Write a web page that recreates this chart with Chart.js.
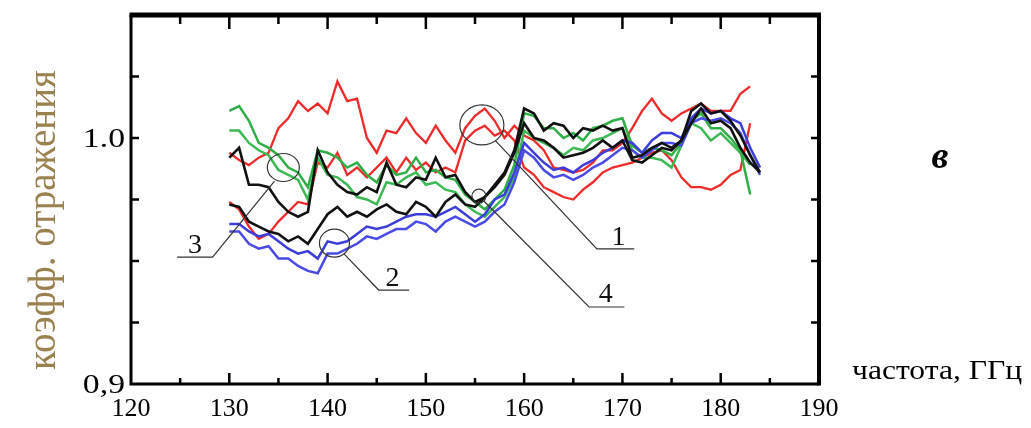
<!DOCTYPE html>
<html>
<head>
<meta charset="utf-8">
<script src="https://cdn.jsdelivr.net/npm/chart.js@4.4.0/dist/chart.umd.min.js"></script>
<style>
  html, body { margin: 0; padding: 0; background: #fff; }
</style>
</head>
<body>
<canvas id="chart" width="1031" height="428"></canvas>
<script>
// frequency, GHz
const freq = [130,131,132,133,134,135,136,137,138,139,140,141,142,143,144,145,146,147,148,149,
  150,151,152,153,154,155,156,157,158,159,160,161,162,163,164,165,166,167,168,169,
  170,171,172,173,174,175,176,177,178,179,180,181,182,183,184];

const red1 = [0.994,0.991,0.989,0.992,0.994,1.004,1.008,1.015,1.011,1.014,
  1.010,1.023,1.015,1.016,1.000,0.994,1.003,1.002,1.008,1.002,
  0.998,1.005,0.999,0.994,1.004,1.009,1.012,1.007,1.000,1.005,
  1.001,0.999,0.995,0.988,0.987,0.986,0.987,0.990,0.995,0.995,
  0.998,1.004,1.011,1.016,1.010,1.007,1.010,1.012,1.014,1.011,
  1.011,1.011,1.018,1.021,null];
const red2 = [0.974,0.971,0.964,0.959,0.961,0.966,0.970,0.974,0.973,0.990,
  0.988,0.994,0.985,0.988,0.984,0.988,0.992,0.986,0.992,0.987,
  0.990,0.986,0.988,0.986,0.999,1.003,1.005,1.001,1.003,0.999,
  0.988,0.985,0.980,0.978,0.976,0.975,0.979,0.982,0.986,0.988,
  0.989,0.990,0.992,0.994,0.995,0.991,0.984,0.980,0.980,0.979,
  0.981,0.985,0.987,1.006,null];
const green1 = [1.011,1.013,1.007,0.998,0.996,0.993,0.988,0.986,0.980,0.995,
  0.994,0.992,0.988,0.990,0.985,0.982,0.989,0.985,0.986,0.992,
  0.986,0.987,0.984,0.983,0.977,0.974,0.971,0.975,0.979,0.989,
  1.010,1.009,1.004,1.004,1.000,1.002,0.999,1.004,1.005,1.007,
  1.008,0.997,0.994,0.996,0.995,0.993,0.998,1.007,1.010,1.004,
  1.004,1.000,0.995,0.977,null];
const green2 = [1.003,1.003,0.998,0.995,0.993,0.987,0.985,0.983,0.975,0.992,
  0.985,0.984,0.981,0.976,0.975,0.973,0.982,0.981,0.984,0.986,
  0.981,0.982,0.979,0.978,0.973,0.970,0.968,0.972,0.976,0.984,
  1.003,1.000,0.998,0.996,0.993,0.996,0.995,0.999,1.000,1.002,
  1.004,0.995,0.992,0.992,0.991,0.988,0.997,1.006,1.004,0.999,
  1.002,0.998,0.994,0.989,null];
const black1 = [0.992,0.996,0.981,0.981,0.980,0.974,0.970,0.968,0.970,0.995,
  0.986,0.981,0.978,0.977,0.980,0.978,0.990,0.981,0.980,0.984,
  0.983,0.992,0.984,0.985,0.978,0.974,0.976,0.981,0.986,0.995,
  1.012,1.010,1.003,1.006,1.005,1.000,1.004,1.003,1.005,1.003,
  1.004,0.992,0.993,0.996,0.998,0.996,0.999,1.011,1.014,1.010,
  1.011,1.007,1.001,0.993,0.986];
const black2 = [0.973,0.972,0.966,0.964,0.962,0.961,0.958,0.960,0.957,0.963,
  0.969,0.972,0.968,0.970,0.968,0.971,0.973,0.970,0.969,0.974,
  0.972,0.968,0.974,0.977,0.973,0.972,0.976,0.980,0.985,0.994,
  1.006,1.000,0.999,0.996,0.992,0.993,0.994,0.996,0.999,0.996,
  0.999,0.991,0.990,0.993,0.996,0.995,0.999,1.006,1.012,1.006,
  1.007,1.004,0.996,0.990,0.986];
const blue1 = [0.965,0.965,0.962,0.960,0.961,0.958,0.955,0.953,0.954,0.951,
  0.958,0.957,0.958,0.961,0.964,0.963,0.964,0.966,0.968,0.969,
  0.969,0.968,0.970,0.972,0.969,0.966,0.969,0.975,0.977,0.986,
  0.998,0.994,0.990,0.987,0.988,0.986,0.989,0.991,0.994,0.996,
  0.999,0.998,0.994,0.999,1.002,1.002,1.000,1.008,1.012,1.010,
  1.011,1.008,1.006,0.996,0.988];
const blue2 = [0.962,0.962,0.957,0.955,0.956,0.951,0.951,0.948,0.946,0.945,
  0.953,0.953,0.955,0.957,0.960,0.959,0.961,0.963,0.963,0.966,
  0.965,0.962,0.966,0.968,0.966,0.964,0.966,0.970,0.973,0.982,
  0.995,0.992,0.987,0.984,0.985,0.983,0.985,0.988,0.990,0.993,
  0.996,0.995,0.992,0.995,0.998,0.998,0.997,1.006,1.008,1.007,
  1.008,1.006,1.002,0.993,0.985];

// labelled y values
const yLabels = [[1.0, '1.0'], [0.9, '0,9']];

// numbered callouts: circle centre, leader path and label, in data units
const callouts = [
  { label: '1', at: [155.7, 1.0053], rx: 22, ry: 20, path: [[157.1, 0.9988], [167.4, 0.9549], [171.2, 0.9549]], text: [169.6, 0.9565] },
  { label: '2', at: [140.7, 0.9573], rx: 15, ry: 14, path: [[141.7, 0.9528], [145.2, 0.9382], [148.3, 0.9382]], text: [146.6, 0.9398] },
  { label: '3', at: [135.5, 0.9880], rx: 16, ry: 14, path: [[134.6, 0.9825], [128.3, 0.9516], [124.7, 0.9516]], text: [126.5, 0.9532] },
  { label: '4', at: [155.4, 0.9764], rx: 7, ry: 7, path: [[155.9, 0.9744], [166.6, 0.9313], [170.2, 0.9313]], text: [168.3, 0.9333] }
];

const serif = "'Liberation Serif', 'DejaVu Serif', serif";

function series(values, color, width) {
  return {
    data: freq.map((f, i) => ({ x: f, y: values[i] })),
    borderColor: color,
    borderWidth: width,
    pointRadius: 0,
    tension: 0,
    fill: false
  };
}

// text in the source is a little wider than Liberation Serif
function wideText(ctx, text, px, py, stretch) {
  ctx.save();
  ctx.translate(px, py);
  ctx.scale(stretch, 1);
  ctx.fillText(text, 0, 0);
  ctx.restore();
}

const decor = {
  id: 'decor',
  afterDraw(chart) {
    const { ctx, chartArea: a, scales: { x, y } } = chart;
    ctx.save();

    // inward ticks
    ctx.strokeStyle = '#000';
    ctx.lineWidth = 2.5;
    x.ticks.forEach(t => {
      const px = x.getPixelForValue(t.value);
      if (t.value <= x.min || t.value >= x.max) return;
      const len = t.value % 10 === 0 ? 11 : 6;
      ctx.beginPath();
      ctx.moveTo(px, a.bottom); ctx.lineTo(px, a.bottom - len);
      ctx.moveTo(px, a.top); ctx.lineTo(px, a.top + (t.value % 10 === 0 ? 14 : 9));
      ctx.stroke();
    });
    y.ticks.forEach(t => {
      const py = y.getPixelForValue(t.value);
      if (t.value <= y.min + 1e-9 || t.value >= y.max - 1e-9) return;
      ctx.beginPath();
      ctx.moveTo(a.left, py); ctx.lineTo(a.left + 8, py);
      ctx.moveTo(a.right, py); ctx.lineTo(a.right - 8, py);
      ctx.stroke();
    });

    // frame
    ctx.lineWidth = 3;
    ctx.beginPath();
    ctx.moveTo(a.left, a.top); ctx.lineTo(a.left, a.bottom); ctx.lineTo(a.right, a.bottom);
    ctx.stroke();
    ctx.lineWidth = 4;
    ctx.beginPath();
    ctx.moveTo(a.right, a.bottom + 1.5); ctx.lineTo(a.right, a.top);
    ctx.stroke();
    ctx.lineWidth = 5;
    ctx.beginPath();
    ctx.moveTo(a.left - 1.5, a.top); ctx.lineTo(a.right + 2, a.top);
    ctx.stroke();

    // y tick labels
    ctx.fillStyle = '#000';
    ctx.font = '27px ' + serif;
    ctx.textAlign = 'right';
    ctx.textBaseline = 'middle';
    yLabels.forEach(([v, s]) => wideText(ctx, s, a.left - 6, y.getPixelForValue(v) + 2, 1.25));

    // callouts
    ctx.strokeStyle = '#333';
    ctx.lineWidth = 1.2;
    ctx.fillStyle = '#111';
    ctx.font = '28px ' + serif;
    ctx.textAlign = 'center';
    ctx.textBaseline = 'alphabetic';
    callouts.forEach(c => {
      const cx = x.getPixelForValue(c.at[0]), cy = y.getPixelForValue(c.at[1]);
      ctx.beginPath();
      ctx.ellipse(cx, cy, c.rx, c.ry, 0, 0, Math.PI * 2);
      ctx.stroke();
      ctx.beginPath();
      c.path.forEach((p, i) => {
        const px = x.getPixelForValue(p[0]), py = y.getPixelForValue(p[1]);
        if (i === 0) ctx.moveTo(px, py); else ctx.lineTo(px, py);
      });
      ctx.stroke();
      ctx.fillText(c.label, x.getPixelForValue(c.text[0]), y.getPixelForValue(c.text[1]));
    });

    // axis titles and panel letter
    ctx.save();
    ctx.translate(45, 220);
    ctx.rotate(-Math.PI / 2);
    ctx.fillStyle = '#9a8150';
    ctx.font = '39px ' + serif;
    ctx.textAlign = 'center';
    ctx.textBaseline = 'middle';
    ctx.fillText('коэфф. отражения', 0, 0);
    ctx.restore();

    ctx.fillStyle = '#000';
    ctx.textAlign = 'left';
    ctx.textBaseline = 'alphabetic';
    ctx.font = '27px ' + serif;
    wideText(ctx, 'частота, ГГц', 852, 379, 1.17);
    ctx.font = 'italic bold 38px ' + serif;
    ctx.textAlign = 'center';
    ctx.fillText('в', 940, 168);
    ctx.restore();
  }
};

new Chart(document.getElementById('chart'), {
  type: 'line',
  data: {
    datasets: [
      series(black1, '#111111', 2.6),
      series(black2, '#111111', 2.6),
      series(blue1, '#3d3ddc', 2.5),
      series(blue2, '#4a4ae6', 2.5),
      series(green1, '#2fae48', 2.5),
      series(green2, '#3cb854', 2.5),
      series(red1, '#ee2a2a', 2.3),
      series(red2, '#ee2a2a', 2.3)
    ]
  },
  options: {
    responsive: false,
    animation: false,
    layout: { padding: { left: 0, right: 212, top: 15, bottom: 0 } },
    plugins: { legend: { display: false }, tooltip: { enabled: false } },
    scales: {
      x: {
        type: 'linear',
        min: 120, max: 190,
        afterFit: s => { s.height = 44; },
        grid: { display: false, drawTicks: false },
        border: { display: false },
        ticks: {
          stepSize: 5, autoSkip: false, maxRotation: 0, padding: 10,
          color: '#000', font: { family: serif, size: 26 },
          callback: v => (v % 10 === 0 ? String(v) : '')
        }
      },
      y: {
        min: 0.9, max: 1.05,
        afterFit: s => { s.width = 131; },
        grid: { display: false, drawTicks: false },
        border: { display: false },
        ticks: { stepSize: 0.025, display: false }
      }
    }
  },
  plugins: [decor]
});
</script>
</body>
</html>
